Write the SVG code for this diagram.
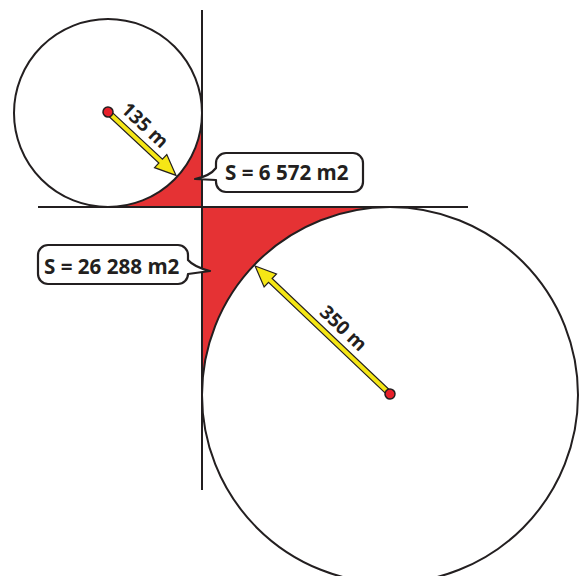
<svg xmlns="http://www.w3.org/2000/svg" width="579" height="576" viewBox="0 0 579 576">
<style>
.ln{stroke:#231f20;stroke-width:2;fill:none}
.area{fill:#e53234;stroke:none}
.circ{fill:none;stroke:#231f20;stroke-width:2}
.arrow{fill:#f5e616;stroke:#231f20;stroke-width:1.2;stroke-linejoin:miter}
.dot{fill:#e8202a;stroke:#231f20;stroke-width:1.5}
.call{fill:#ffffff;stroke:#231f20;stroke-width:2.2;stroke-linejoin:round}
.lbl{font-family:"Open Sans","Liberation Sans",Arial,sans-serif;font-weight:bold;fill:#231f20}
</style>
<rect width="579" height="576" fill="#ffffff"/>
<g id="areas">
<path id="area-small" class="area" d="M202,113 A94,94 0 0 1 108,207 L202,207 Z"/>
<path id="area-big" class="area" d="M202,395 A188,188 0 0 1 390,207 L202,207 Z"/>
</g>
<g id="connectors">
<line class="ln" x1="202" y1="10" x2="202" y2="490"/>
<line class="ln" x1="38" y1="207" x2="468" y2="207"/>
</g>
<g id="circle-small">
<circle class="circ" cx="108" cy="113" r="94"/>
</g>
<g id="circle-big">
<circle class="circ" cx="390" cy="395" r="188"/>
</g>
<g id="arrow-small" transform="translate(108,112) rotate(43)">
<polygon class="arrow" points="0,-2.6 72,-2.6 72,-9 93,0 72,9 72,2.6 0,2.6"/>
<circle class="dot" cx="0" cy="0" r="5"/>
<text class="lbl" x="36" y="-9" font-size="19" text-anchor="middle">135 m</text>
</g>
<g id="arrow-big" transform="translate(390,394) rotate(223.5)">
<polygon class="arrow" points="0,-2.6 165,-2.6 165,-9 186,0 165,9 165,2.6 0,2.6"/>
<circle class="dot" cx="0" cy="0" r="5"/>
</g>
<g id="label-big" transform="translate(390,394) rotate(43.5)">
<text class="lbl" x="-79" y="-9" font-size="19" text-anchor="middle">350 m</text>
</g>
<g id="callout-small">
<path class="call" d="M226,153 H353 A10,10 0 0 1 363,163 V182 A10,10 0 0 1 353,192 H226 A10,10 0 0 1 216,182 V180 L195,179 Q210,176 216,168 V163 A10,10 0 0 1 226,153 Z"/>
<text class="lbl" x="225" y="179.5" font-size="20.6">S = 6 572 m2</text>
</g>
<g id="callout-big">
<path class="call" d="M48,245 H178 A10,10 0 0 1 188,255 V260 Q194,267 210,271 L188,274 A10,10 0 0 1 178,284 H48 A10,10 0 0 1 38,274 V255 A10,10 0 0 1 48,245 Z"/>
<text class="lbl" x="44" y="273.5" font-size="20.6">S = 26 288 m2</text>
</g>
</svg>
